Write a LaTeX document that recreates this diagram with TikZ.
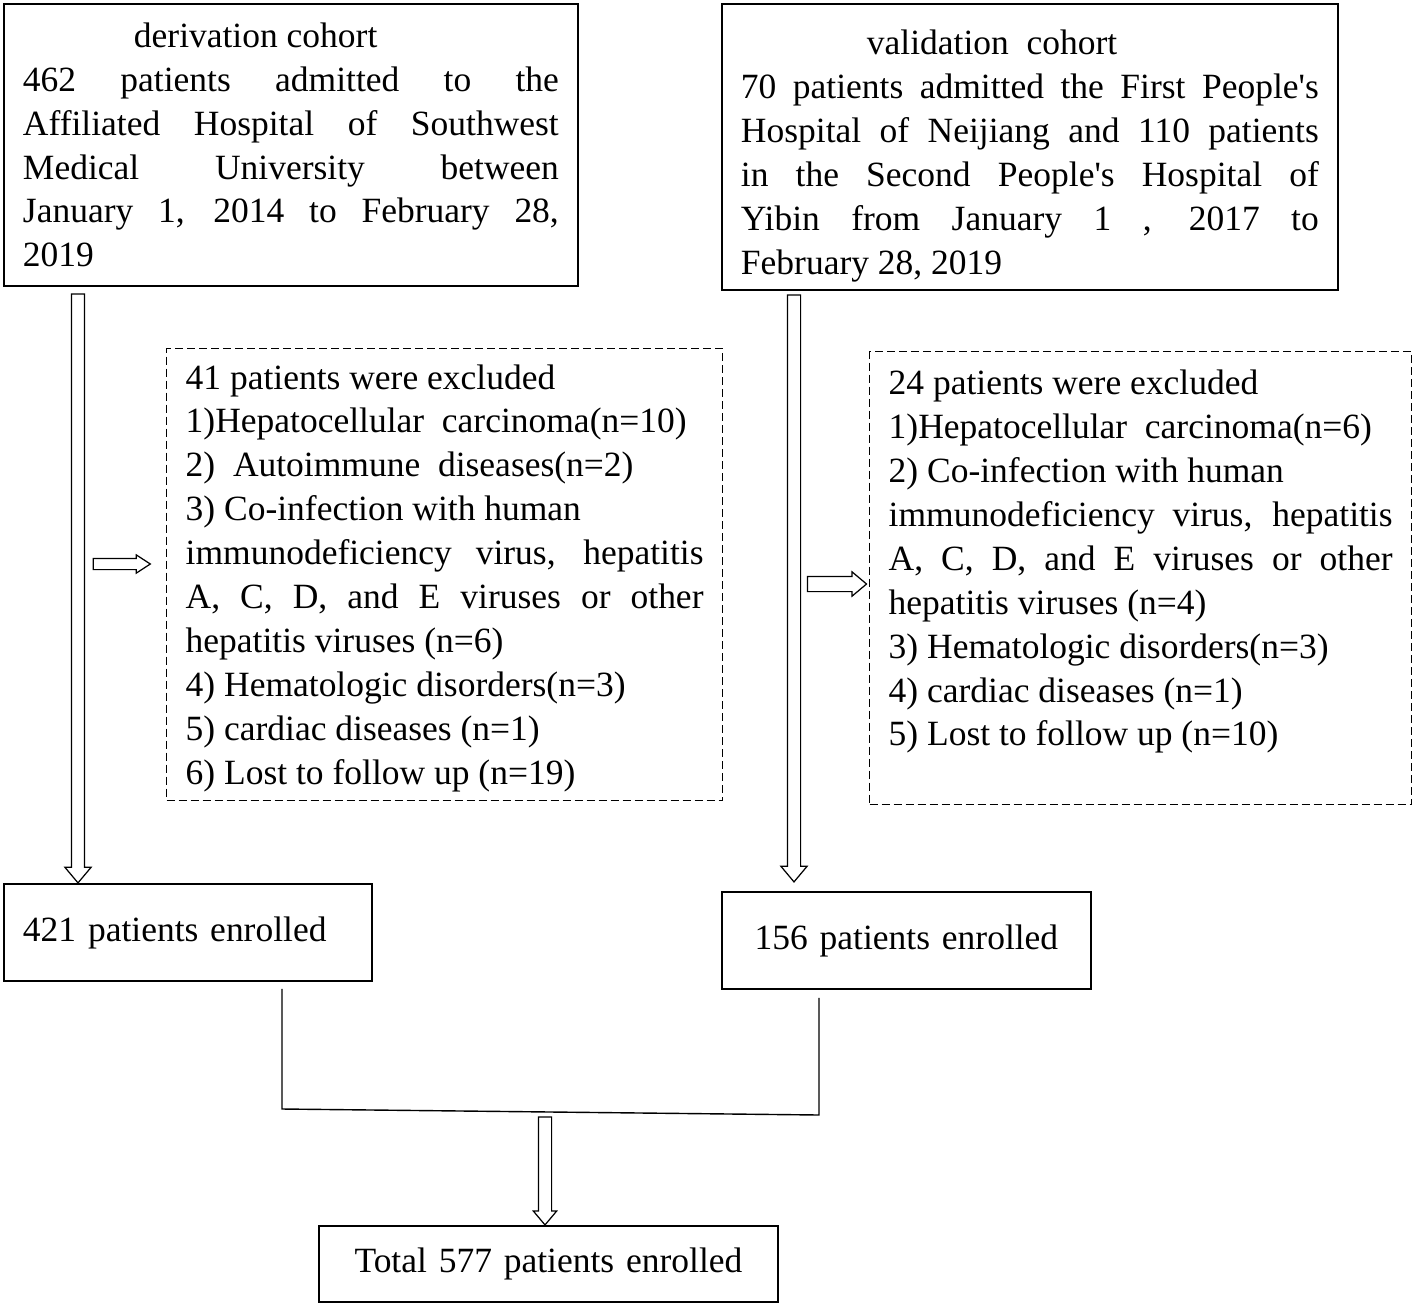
\documentclass[tikz,border=0pt]{standalone}
\usepackage{fontspec}
\setmainfont{Liberation Serif}
\usetikzlibrary{shapes.arrows,calc}

\begin{document}
\begin{tikzpicture}[x=0.02cm,y=-0.02cm,font=\fontsize{20.2}{25}\selectfont]
    \tikzstyle{cohort}=[draw,line width=1.1pt,anchor=north west,inner xsep=0.38cm,inner ysep=0pt,align=justify]
    \tikzstyle{excluded}=[draw,dash pattern=on 0.16cm off 0.08cm,line width=0.8pt,anchor=north west,inner xsep=0.38cm,inner ysep=0pt,align=justify]
    \tikzstyle{hollow}=[single arrow,draw,line width=0.7pt,fill=white,inner xsep=0pt,text height=0pt,text depth=0pt,single arrow tip angle=80]
    \tikzstyle{mergeline}=[line width=0.8pt]

    \useasboundingbox (0,0) rectangle (1418,1306);

    % cohorts
    \node[cohort,text width=10.72cm,minimum height=5.64cm] (derive) at (3,3)
      {\hspace*{2.22cm}derivation cohort\\
       462 patients admitted to the\linebreak
       Affiliated Hospital of Southwest\linebreak
       Medical University between\linebreak
       January 1, 2014 to February 28,\linebreak
       2019};
    \node[cohort,text width=11.56cm,minimum height=5.72cm,text height=24pt] (valid) at (721,3)
      {\hspace*{2.52cm}validation\ \ cohort\\
       70 patients admitted the First People\textquotesingle s\linebreak
       Hospital of Neijiang and 110 patients\linebreak
       in the Second People\textquotesingle s Hospital of\linebreak
       Yibin from January 1 , 2017 to\linebreak
       February 28, 2019};

    % exclusions
    \node[excluded,text width=10.36cm,minimum height=9.04cm,text height=18pt] (exclL) at (166,348)
      {41 patients were excluded\\
       1)Hepatocellular\ \ carcinoma(n=10)\\
       2)\ \ Autoimmune\ \ diseases(n=2)\\
       3) Co-infection with human\\
       immunodeficiency virus, hepatitis\linebreak
       A, C, D, and E viruses or other\linebreak
       hepatitis viruses (n=6)\\
       4) Hematologic disorders(n=3)\\
       5) cardiac diseases (n=1)\\
       6) Lost to follow up (n=19)};
    \node[excluded,text width=10.08cm,minimum height=9.06cm,text depth=223pt] (exclR) at (869,351)
      {24 patients were excluded\\
       1)Hepatocellular\ \ carcinoma(n=6)\\
       2) Co-infection with human\\
       immunodeficiency virus, hepatitis\linebreak
       A, C, D, and E viruses or other\linebreak
       hepatitis viruses (n=4)\\
       3) Hematologic disorders(n=3)\\
       4) cardiac diseases (n=1)\\
       5) Lost to follow up (n=10)};

    % enrolled
    \node[cohort,text width=6.6cm,align=left,minimum height=1.94cm] (enrolL) at (3,883) {421 patients enrolled};
    \node[cohort,text width=6.62cm,align=center,minimum height=1.94cm] (enrolR) at (721,891) {156 patients enrolled};
    \node[cohort,text width=8.42cm,align=center,minimum height=1.52cm] (total) at (318,1225) {Total 577 patients enrolled};

    % hollow arrows
    \node[hollow,rotate=-90,minimum height=11.78cm,inner ysep=0.12cm,single arrow head extend=0.13cm] (flowL) at (78,584.5) {};
    \node[hollow,minimum height=1.14cm,inner ysep=0.1cm,single arrow head extend=0.07cm,single arrow tip angle=66] (skipL) at (117.5,564) {};
    \node[hollow,rotate=-90,minimum height=11.74cm,inner ysep=0.12cm,single arrow head extend=0.13cm] (flowR) at (794,584.5) {};
    \node[hollow,minimum height=1.18cm,inner ysep=0.14cm,single arrow head extend=0.09cm] (skipR) at (832.5,584) {};

    % merge
    \coordinate (mergeL) at (282,1109);
    \coordinate (mergeR) at (819,1115);
    \draw[mergeline] ($(enrolL.south -| mergeL)+(0,7)$) -- (mergeL) -- (mergeR) -- ($(enrolR.south -| mergeR)+(0,8)$);
    \node[hollow,rotate=-90,minimum height=2.16cm,inner ysep=0.12cm,single arrow head extend=0.1cm] (flowT) at (545,1167) {};
\end{tikzpicture}
\end{document}
